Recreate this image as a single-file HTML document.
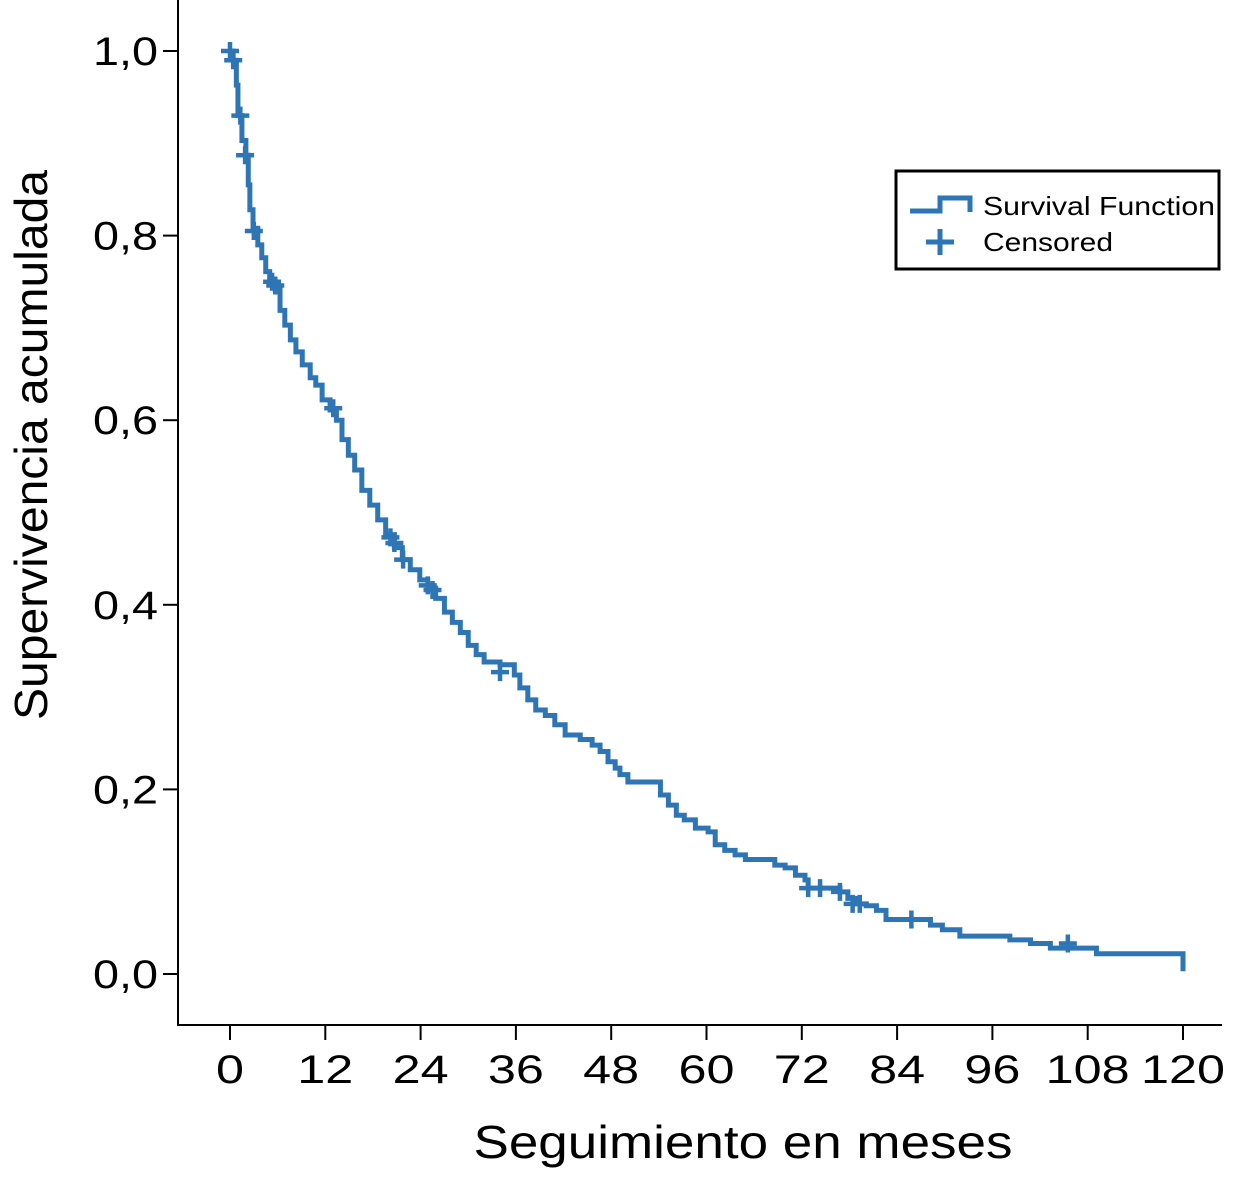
<!DOCTYPE html>
<html><head><meta charset="utf-8"><style>
html,body{margin:0;padding:0;background:#fff;}
svg text{font-family:"Liberation Sans",Arial,sans-serif;fill:#000;}
</style></head><body>
<svg id="chart" width="1236" height="1172" viewBox="0 0 1236 1172" xmlns="http://www.w3.org/2000/svg">
<rect width="1236" height="1172" fill="#fff"/>
<g id="axes"></g>
<path id="curve" fill="none" stroke="#2e75b6" stroke-width="5"/>
<g id="censors"></g>
<text transform="translate(47,445) rotate(-90)" text-anchor="middle" font-size="46" textLength="550" lengthAdjust="spacingAndGlyphs">Supervivencia acumulada</text>
<text x="743" y="1158" text-anchor="middle" font-size="46" textLength="539" lengthAdjust="spacingAndGlyphs">Seguimiento en meses</text>
<g>
<rect x="896" y="171" width="323" height="98" fill="#fff" stroke="#000" stroke-width="3"/>
<path d="M910,211 H940 V198 H970 V212" fill="none" stroke="#2e75b6" stroke-width="5"/>
<text x="983" y="215" font-size="26" textLength="232" lengthAdjust="spacingAndGlyphs">Survival Function</text>
<path d="M926,242 H954 M940,229 V255" stroke="#2e75b6" stroke-width="5"/>
<text x="983" y="251" font-size="26" textLength="130" lengthAdjust="spacingAndGlyphs">Censored</text>
</g>
</svg>
<script>
const xTicks=[0,12,24,36,48,60,72,84,96,108,120];
const yTicks=[0,0.2,0.4,0.6,0.8,1.0];
const yTickLabels=["0,0","0,2","0,4","0,6","0,8","1,0"];
const times=[0,0.4,0.8,1.0,1.5,2.0,2.3,2.5,2.9,3.5,4.0,4.5,5.0,5.7,6.3,6.9,7.6,8.3,9.1,10.1,10.8,11.6,12.6,13.4,14.1,14.9,15.7,16.6,17.6,18.6,19.6,20.7,21.7,22.7,23.9,24.9,25.9,27.0,28.0,29.0,30.0,31.0,32.0,34.0,35.8,36.5,37.5,38.5,39.7,40.9,42.2,44.1,45.6,46.6,47.6,48.5,49.1,50.1,54.2,55.2,56.2,57.2,58.6,60.2,61.1,62.3,63.6,64.9,68.6,69.9,71.2,72.4,72.8,76.8,77.8,78.8,80.1,81.4,82.6,88.2,89.7,91.9,98.2,100.8,103.3,109.1,118.8,120];
const surv=[1.0,0.990,0.963,0.930,0.903,0.887,0.855,0.828,0.808,0.790,0.776,0.761,0.750,0.741,0.719,0.703,0.687,0.674,0.660,0.646,0.638,0.622,0.611,0.600,0.579,0.562,0.546,0.524,0.508,0.492,0.476,0.462,0.449,0.438,0.427,0.418,0.407,0.392,0.381,0.370,0.356,0.346,0.338,0.335,0.324,0.310,0.297,0.286,0.280,0.270,0.259,0.254,0.248,0.241,0.230,0.223,0.216,0.208,0.194,0.183,0.172,0.167,0.158,0.154,0.140,0.134,0.129,0.124,0.118,0.115,0.107,0.102,0.093,0.089,0.082,0.076,0.074,0.069,0.059,0.053,0.048,0.041,0.037,0.033,0.028,0.022,0.022,0.003];
const censorTimes=[0,0.4,1.3,1.9,3.0,5.3,5.7,13.0,20.2,20.7,21.8,24.9,25.5,34.0,72.8,74.3,76.8,78.4,79.3,85.8,105.5];
const censorSurv=[1.0,0.99,0.93,0.887,0.805,0.750,0.746,0.613,0.473,0.467,0.449,0.421,0.416,0.327,0.093,0.093,0.089,0.076,0.076,0.059,0.033];

const X=t=>230+t*(1183-230)/120;
const Y=s=>974-s*(974-51);
const NS="http://www.w3.org/2000/svg";
const axes=document.getElementById('axes');
function mk(tag,attrs,parent){const e=document.createElementNS(NS,tag);for(const k in attrs)e.setAttribute(k,attrs[k]);parent.appendChild(e);return e;}
const yAxis=mk('line',{x1:178,y1:0,x2:178,y2:1026,stroke:'#000','stroke-width':2},axes);


const xAxis=mk('line',{x1:177,y1:1025,x2:1222,y2:1025,stroke:'#000','stroke-width':2},axes);


xTicks.forEach(t=>{
  const l=mk('line',{x1:X(t),y1:1025,x2:X(t),y2:1040,stroke:'#000','stroke-width':2},axes);
  
  
  const s=String(t);
  const tx=mk('text',{x:X(t),y:1083,'text-anchor':'middle','font-size':40,textLength:s.length*28,lengthAdjust:'spacingAndGlyphs'},axes);
  
  
  tx.textContent=s;
});
yTicks.forEach((v,i)=>{
  const l=mk('line',{x1:163,y1:Y(v),x2:178,y2:Y(v),stroke:'#000','stroke-width':2},axes);
  
  
  const tx=mk('text',{x:158,y:Y(v)+14,'text-anchor':'end','font-size':40,textLength:65,lengthAdjust:'spacingAndGlyphs'},axes);
  
  
  tx.textContent=yTickLabels[i];
});
let d='M'+X(times[0])+','+Y(surv[0]);
for(let i=1;i<times.length;i++){d+=' H'+X(times[i])+' V'+Y(surv[i]);}
document.getElementById('curve').setAttribute('d',d);
const cg=document.getElementById('censors');
censorTimes.forEach((t,i)=>{
  const x=X(t),y=Y(censorSurv[i]);
  const p=mk('path',{d:`M${x-9},${y} H${x+9} M${x},${y-9} V${y+9}`,stroke:'#2e75b6','stroke-width':4.5},cg);
  
  
});
</script>
</body></html>
